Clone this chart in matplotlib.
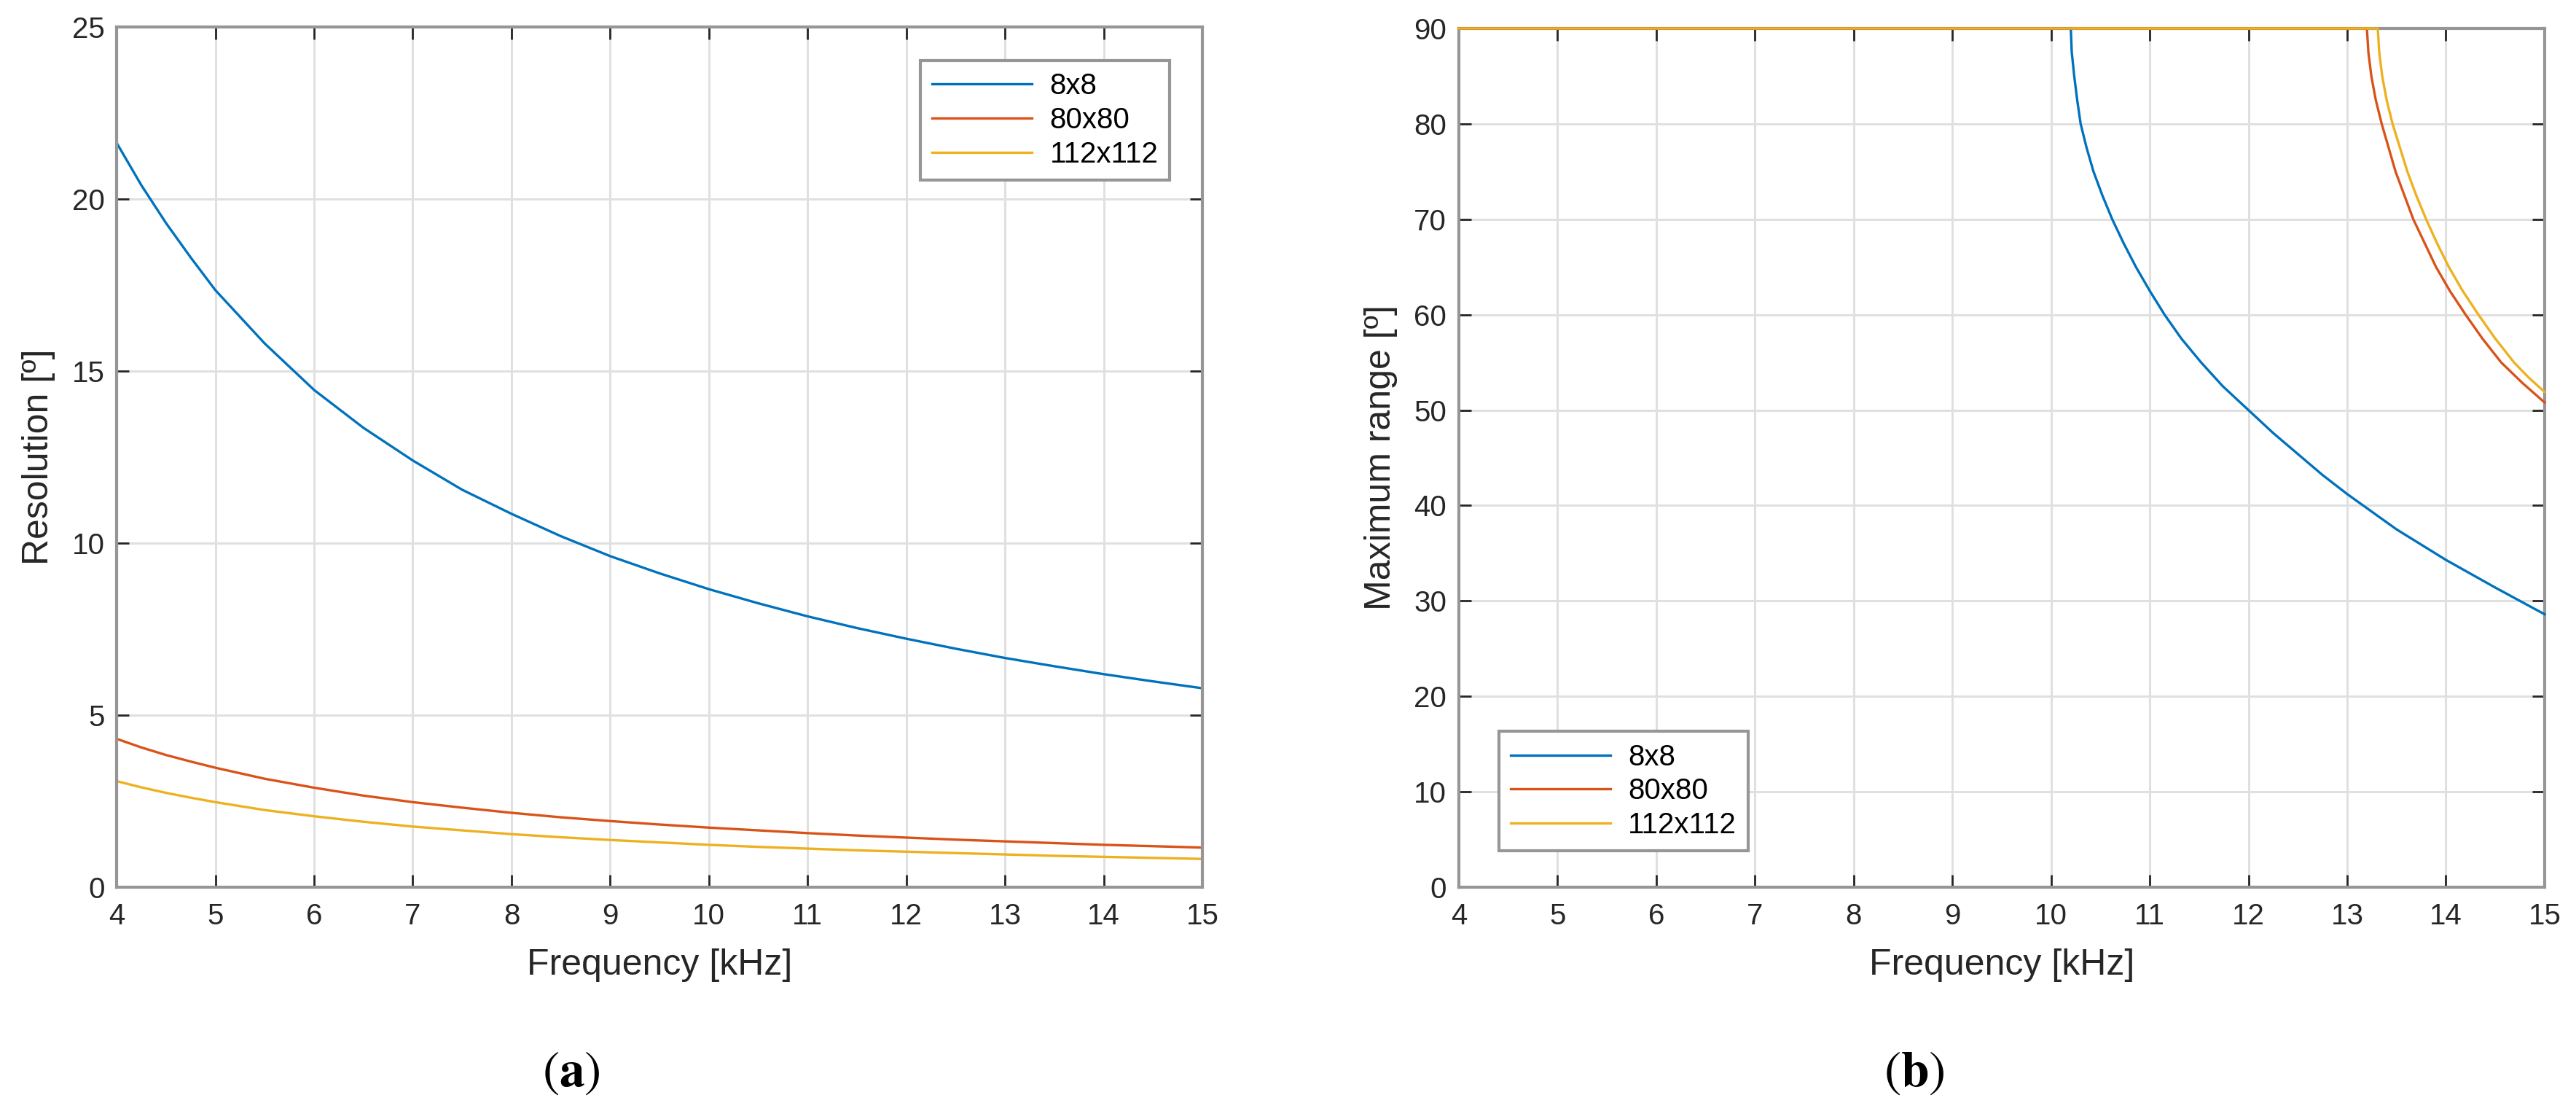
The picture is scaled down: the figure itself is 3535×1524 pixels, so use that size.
import matplotlib
matplotlib.use("Agg")
import matplotlib.pyplot as plt

plt.rcParams['font.family'] = ['Liberation Sans', 'DejaVu Sans']
plt.rcParams['mathtext.fontset'] = 'stix'

# Podatki (odčitani s slike)
series_names = ['8x8', '80x80', '112x112']
colors = ['#0072BD', '#D95319', '#EDB120']

# (a) ločljivost
freq_a = [4, 4.25, 4.5, 4.75, 5, 5.5, 6, 6.5, 7, 7.5, 8, 8.5, 9, 9.5, 10, 10.5, 11,
          11.5, 12, 12.5, 13, 13.5, 14, 14.5, 15]
res_8 = [21.63, 20.4, 19.3, 18.3, 17.35, 15.8, 14.45, 13.35, 12.4, 11.55, 10.85, 10.2,
         9.62, 9.12, 8.66, 8.25, 7.87, 7.53, 7.22, 6.93, 6.66, 6.42, 6.19, 5.98, 5.78]
res_80 = [4.31, 4.06, 3.84, 3.65, 3.47, 3.15, 2.89, 2.66, 2.47, 2.31, 2.16, 2.03, 1.92,
          1.82, 1.73, 1.65, 1.57, 1.50, 1.44, 1.38, 1.33, 1.28, 1.23, 1.19, 1.15]
res_112 = [3.08, 2.90, 2.74, 2.60, 2.47, 2.24, 2.06, 1.90, 1.76, 1.65, 1.54, 1.45, 1.37,
           1.30, 1.23, 1.17, 1.12, 1.07, 1.03, 0.99, 0.95, 0.91, 0.88, 0.85, 0.82]

# (b) največji doseg
freq_b_8 = [4, 10.20, 10.21, 10.235, 10.265, 10.30, 10.36, 10.43, 10.52, 10.62, 10.735,
            10.86, 11.0, 11.15, 11.32, 11.52, 11.74, 12.0, 12.25, 12.5, 12.75, 13.0,
            13.5, 14.0, 14.5, 15.0]
rng_8 = [90, 90, 87.5, 85, 82.5, 80, 77.5, 75, 72.5, 70, 67.5, 65, 62.5, 60, 57.5, 55,
         52.5, 50, 47.6, 45.4, 43.2, 41.2, 37.5, 34.3, 31.4, 28.6]
freq_b_80 = [4, 13.20, 13.215, 13.245, 13.29, 13.35, 13.49, 13.58, 13.67, 13.90, 14.04,
             14.20, 14.37, 14.56, 14.78, 15.0]
rng_80 = [90, 90, 87.5, 85, 82.5, 80, 75, 72.5, 70, 65, 62.5, 60, 57.5, 55, 52.8, 50.8]
freq_b_112 = [4, 13.31, 13.325, 13.355, 13.40, 13.46, 13.61, 13.70, 13.80, 13.91, 14.03,
              14.17, 14.33, 14.50, 14.69, 14.84, 15.0]
rng_112 = [90, 90, 87.5, 85, 82.5, 80, 75, 72.5, 70, 67.5, 65, 62.5, 60, 57.5, 55,
           53.4, 51.9]

xticks = list(range(4, 16))
yticks_a = [0, 5, 10, 15, 20, 25]
yticks_b = list(range(0, 91, 10))

fig = plt.figure(figsize=(35.35, 15.24), dpi=100)
ax_a = fig.add_axes([0.0453, 0.2015, 0.4215, 0.7742])
ax_b = fig.add_axes([0.5663, 0.2015, 0.4215, 0.7729])

text_col = '#262626'


def style_axes(ax, yticks, ylabel):
    ax.set_xlim(4, 15)
    ax.set_ylim(yticks[0], yticks[-1])
    ax.set_xticks(xticks)
    ax.set_yticks(yticks)
    ax.grid(True, color='#e0e0e0', linewidth=2.2)
    ax.set_axisbelow(True)
    for s in ax.spines.values():
        s.set_color('#969696')
        s.set_linewidth(3)
    ax.tick_params(direction='in', length=12, width=2, color='#262626',
                   labelsize=29, labelcolor=text_col, top=True, right=True, pad=12)
    ax.tick_params(axis='x', pad=15)
    ax.set_xlabel('Frequency [kHz]', fontsize=36, color=text_col, labelpad=18)
    ax.set_ylabel(ylabel, fontsize=36, color=text_col, labelpad=16)


def add_legend(ax, loc, anchor):
    leg = ax.legend(loc=loc, bbox_to_anchor=anchor, fontsize=29, fancybox=False,
                    framealpha=1, edgecolor='#969696', handlelength=3.4,
                    handletextpad=0.6, borderaxespad=0, borderpad=0.4,
                    labelspacing=0.22)
    leg.get_frame().set_linewidth(3)
    for t in leg.get_texts():
        t.set_color('black')
    leg.set_zorder(10)
    return leg


# (a)
for y, c, n in zip([res_8, res_80, res_112], colors, series_names):
    ax_a.plot(freq_a, y, color=c, linewidth=2.4, label=n)
style_axes(ax_a, yticks_a, 'Resolution [º]')
add_legend(ax_a, 'upper right', (0.970, 0.961))

# (b)
for fx, y, c, n in zip([freq_b_8, freq_b_80, freq_b_112], [rng_8, rng_80, rng_112],
                       colors, series_names):
    ax_b.plot(fx, y, color=c, linewidth=2.4, label=n, clip_on=False, zorder=5)
style_axes(ax_b, yticks_b, 'Maximum range [º]')
add_legend(ax_b, 'lower left', (0.037, 0.042))

fig.text(784 / 3535, 1 - 1472 / 1524, r'$(\mathbf{a})$', fontsize=50,
         ha='center', va='center', color='black')
fig.text(2627 / 3535, 1 - 1472 / 1524, r'$(\mathbf{b})$', fontsize=50,
         ha='center', va='center', color='black')

fig.savefig('out.png', dpi=100)
